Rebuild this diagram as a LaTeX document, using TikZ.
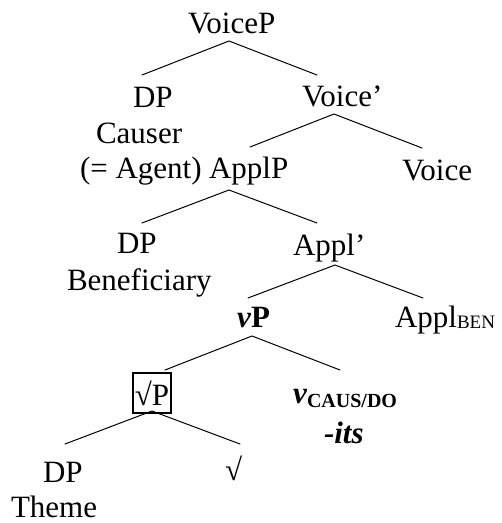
\documentclass[tikz,border=0pt]{standalone}
\usepackage{fontspec}
\setmainfont{Liberation Serif}
\begin{document}
\begin{tikzpicture}[x=1pt,y=-1pt,
  lbl/.style={anchor=base west, inner sep=0pt, outer sep=0pt,
    font=\fontsize{31}{36}\selectfont},
  branch/.style={line width=1pt, line cap=round}]
\useasboundingbox (0,0) rectangle (502,523);

% --- labels ---
\node (voicep) [lbl] at (188,33) {VoiceP};
\node (dpcauser) [lbl] at (133,107) {DP};
\node (causer) [lbl] at (96,143) {Causer};
\node (agent) [lbl] at (80,178) {(= Agent)};
\node (applp) [lbl] at (209,178) {ApplP};
\node (voicebar) [lbl] at (302,106) {Voice’};
\node (voice) [lbl] at (402,180) {Voice};
\node (dpben) [lbl] at (117,253) {DP};
\node (benef) [lbl] at (67,290) {Beneficiary};
\node (applbar) [lbl] at (293,255) {Appl’};
\node (vp) [lbl] at (237,327) {\textbf{\textit{v}P}};
\node (appl) [lbl] at (395,327) {Appl\raisebox{-1pt}{\fontsize{19}{20}\selectfont BEN}};
\node (rootp) [lbl, anchor=base, draw, line width=1.6pt, text height=32pt,
  text depth=8pt, minimum width=38pt] at (152,405) {√P};
\node (vcaus) [lbl] at (293,403) {\textbf{\textit{v}}\raisebox{-4pt}{\fontsize{20}{22}\selectfont\bfseries CAUS/DO}};
\node (its) [lbl] at (324,443) {\textbf{\textit{-its}}};
\node (dptheme) [lbl] at (43,482) {DP};
\node (root) [lbl] at (225,480) {√};
\node (theme) [lbl] at (11,517) {Theme};

% --- branch points ---
\coordinate (voicep-b) at (229,41);
\coordinate (dpcauser-t) at (142,75);
\coordinate (voicebar-t) at (317,75);
\coordinate (voicebar-b) at (334,114);
\coordinate (applp-t) at (250,147);
\coordinate (voice-t) at (422,148);
\coordinate (applp-b) at (229,190);
\coordinate (dpben-t) at (142,223);
\coordinate (applbar-t) at (317,223);
\coordinate (applbar-b) at (335,265);
\coordinate (vp-t) at (248,298);
\coordinate (appl-t) at (423,298);
\coordinate (vp-b) at (252,336);
\coordinate (rootp-t) at (165,370);
\coordinate (vcaus-t) at (340,370);
\coordinate (rootp-b) at (152,411);
\coordinate (dptheme-t) at (65,444);
\coordinate (root-t) at (240,444);

% --- branches ---
\draw[branch] (dpcauser-t) -- (voicep-b) -- (voicebar-t);
\draw[branch] (applp-t) -- (voicebar-b) -- (voice-t);
\draw[branch] (dpben-t) -- (applp-b) -- (applbar-t);
\draw[branch] (vp-t) -- (applbar-b) -- (appl-t);
\draw[branch] (rootp-t) -- (vp-b) -- (vcaus-t);
\draw[branch] (dptheme-t) -- (rootp-b) -- (root-t);
\end{tikzpicture}
\end{document}
